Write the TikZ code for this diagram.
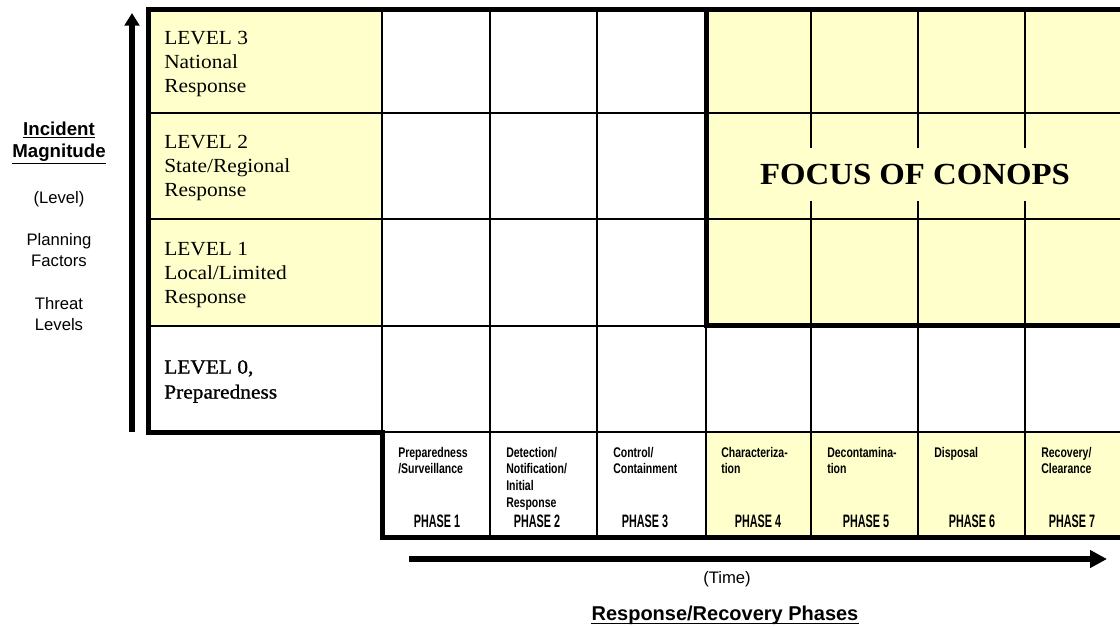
\documentclass[tikz,border=0pt]{standalone}
\usepackage{fontspec}
\setmainfont[FakeStretch=1.07]{Liberation Serif}
\setsansfont{Liberation Sans}
\newfontfamily\phasefont[FakeStretch=0.75]{Liberation Sans}
\newfontfamily\phasetitlefont[FakeStretch=0.6]{Liberation Sans}
\newfontfamily\heavyserif[FakeStretch=1.07,FakeBold=1]{Liberation Serif}
\usetikzlibrary{arrows.meta,positioning}
\definecolor{conopsyellow}{RGB}{255,255,204}

\begin{document}
\begin{tikzpicture}[x=0.75pt,y=-0.75pt,
	gridline/.style={line width=1.4pt},
	heavyline/.style={line width=3.75pt,line join=miter},
	level/.style={anchor=north west,inner sep=0pt,align=left,font=\fontsize{15}{18}\selectfont},
	task/.style={anchor=north west,inner sep=0pt,align=left,font=\phasefont\bfseries\fontsize{10.5}{12.4}\selectfont},
	phase/.style={anchor=base,inner sep=0pt,font=\phasetitlefont\bfseries\fontsize{13.5}{15}\selectfont},
	side/.style={anchor=north,inner sep=0pt,align=center,font=\sffamily\fontsize{12.5}{15.75}\selectfont},
	bigarrow/.style={line width=4.5pt}]

	\useasboundingbox (0,0) rectangle (1120,626);

	\fill[conopsyellow] (148,9.5) rectangle (382,326);
	\fill[conopsyellow] (706,9.5) rectangle (1140,325);
	\fill[conopsyellow] (706,432) rectangle (1140,537.5);

	\foreach \y in {113,219,326}
		\draw[gridline] (148,\y) -- (1140,\y);
	\draw[gridline] (382,432) -- (1140,432);
	\foreach \x in {382,490,597,706,811,918,1025}
		\draw[gridline] (\x,9.5) -- (\x,537.5);

	\draw[heavyline] (1140,9.5) -- (148,9.5) -- (148,432) -- (382,432) -- (382,537.5) -- (1140,537.5);
	\draw[heavyline] (706,9.5) -- (706,325) -- (1140,325);

	\node[fill=conopsyellow,inner xsep=3pt,inner ysep=12pt,font=\bfseries\fontsize{23}{26}\selectfont] (focus) at (915,174.5) {FOCUS OF CONOPS};

	\node[level] (lv3) at (164,31) {LEVEL 3\\National\\Response};
	\node[level] (lv2) at (164,135) {LEVEL 2\\State/Regional\\Response};
	\node[level] (lv1) at (164,242) {LEVEL 1\\Local/Limited\\Response};
	\node[level,font=\heavyserif\fontsize{15}{18.75}\selectfont] (lv0) at (164,360) {LEVEL 0,\\Preparedness};

	\node[task] (task1) at (398,447) {Preparedness\\/Surveillance};
	\node[task] (task2) at (506,447) {Detection/\\Notification/\\Initial\\Response};
	\node[task] (task3) at (613,447) {Control/\\Containment};
	\node[task] (task4) at (721,447) {Characteriza-\\tion};
	\node[task] (task5) at (827,447) {Decontamina-\\tion};
	\node[task] (task6) at (934,447) {Disposal};
	\node[task] (task7) at (1041,447) {Recovery/\\Clearance};

	\foreach \n/\x in {1/437,2/537,3/645,4/758,5/866,6/972,7/1072}
		\node[phase] (phase\n) at (\x,527) {PHASE \n};

	\node[side,font=\sffamily\bfseries\fontsize{14}{16.5}\selectfont] (magnitude) at (59,121.5) {\underline{Incident}\\\underline{Magnitude}};
	\node[side] (levelnote) at (59,191) {(Level)};
	\node[side] (planning) at (59,233) {Planning\\Factors};
	\node[side] (threat) at (59,297) {Threat\\Levels};

	\coordinate (magbase) at (132,432);
	\coordinate (magtip) at (132,13);
	\draw[bigarrow,-{Triangle[length=9.5pt,width=11pt]}] (magbase) -- (magtip);

	\coordinate (timestart) at (409,559);
	\coordinate (timetip) at (1107,559);
	\draw[bigarrow,-{Triangle[length=12.75pt,width=12.75pt]}] (timestart) -- (timetip);

	\node[anchor=base,font=\sffamily\fontsize{12.5}{14}\selectfont] (timenote) at (727,583) {(Time)};
	\node[anchor=base,inner sep=0pt,font=\sffamily\bfseries\fontsize{15}{18}\selectfont] (phasetitle) at (725,620) {Response/Recovery Phases};
	\draw[line width=1.2pt] ([yshift=-2.6pt]phasetitle.base west) -- ([yshift=-2.6pt]phasetitle.base east);
\end{tikzpicture}
\end{document}
